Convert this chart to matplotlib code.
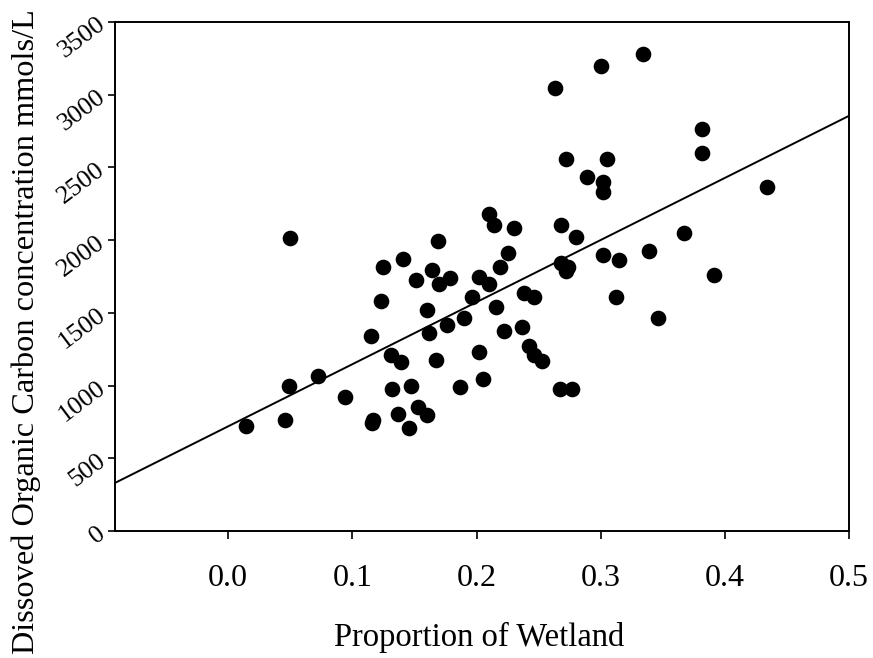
import numpy as np
import matplotlib
matplotlib.use("Agg")
import matplotlib.pyplot as plt

plt.rcParams['font.family'] = ['Liberation Serif', 'DejaVu Serif']

# Proportion of wetland vs dissolved organic carbon
wetland = [0.014, 0.046, 0.050, 0.049, 0.072, 0.094, 0.115, 0.116, 0.117, 0.123,
           0.125, 0.141, 0.151, 0.164, 0.160, 0.162, 0.131, 0.139, 0.132, 0.147,
           0.153, 0.160, 0.137, 0.146, 0.210, 0.214, 0.230, 0.169, 0.268, 0.280,
           0.302, 0.315, 0.225, 0.219, 0.179, 0.170, 0.202, 0.210, 0.268, 0.274,
           0.272, 0.196, 0.216, 0.238, 0.246, 0.312, 0.190, 0.176, 0.222, 0.237,
           0.242, 0.246, 0.253, 0.167, 0.202, 0.205, 0.187, 0.267, 0.277, 0.334,
           0.300, 0.263, 0.382, 0.382, 0.272, 0.305, 0.289, 0.302, 0.302, 0.434,
           0.367, 0.339, 0.391, 0.346]
doc = [725, 765, 2018, 1000, 1066, 923, 1340, 745, 765, 1584,
       1818, 1868, 1726, 1797, 1520, 1362, 1208, 1160, 977, 997,
       855, 797, 805, 710, 2178, 2104, 2086, 1994, 2104, 2020,
       1900, 1866, 1914, 1816, 1738, 1697, 1744, 1697, 1845, 1818,
       1790, 1611, 1543, 1634, 1607, 1610, 1467, 1417, 1378, 1401,
       1272, 1210, 1171, 1176, 1229, 1045, 993, 977, 977, 3281,
       3200, 3045, 2763, 2602, 2556, 2556, 2432, 2398, 2334, 2363,
       2047, 1926, 1760, 1463]

# fitted line as drawn in the figure
intercept = 720
slope = 4270

xticks = [0.0, 0.1, 0.2, 0.3, 0.4, 0.5]
yticks = [0, 500, 1000, 1500, 2000, 2500, 3000, 3500]

fig = plt.figure(figsize=(8.73, 6.58), dpi=100)
ax = fig.add_axes([0.132, 0.193, 0.8405, 0.7735])

ax.scatter(wetland, doc, s=105, color='black', zorder=3)

xl = np.array([-0.091, 0.5])
ax.plot(xl, intercept + slope * xl, color='black', lw=1.4)

ax.set_xlim(-0.091, 0.5)
ax.set_ylim(0, 3500)
ax.set_xticks(xticks)
ax.set_xticklabels(['%.1f' % t for t in xticks], fontsize=23)
ax.set_yticks(yticks)
ax.set_yticklabels([str(t) for t in yticks], fontsize=19, rotation=37,
                   ha='right', va='center', rotation_mode='anchor')

ax.tick_params(axis='x', direction='out', length=6, width=1.2, pad=18)
ax.tick_params(axis='y', direction='out', length=5, width=1.2, pad=4)
for sp in ax.spines.values():
    sp.set_linewidth(1.4)

ax.set_xlabel('Proportion of Wetland', fontsize=23.5)
ax.xaxis.set_label_coords(0.496, -0.178)
ax.set_ylabel('Dissoved Organic Carbon concentration mmols/L', fontsize=23.3)
ax.yaxis.set_label_coords(-0.101, 0.391)

fig.savefig('out.png', dpi=100)
